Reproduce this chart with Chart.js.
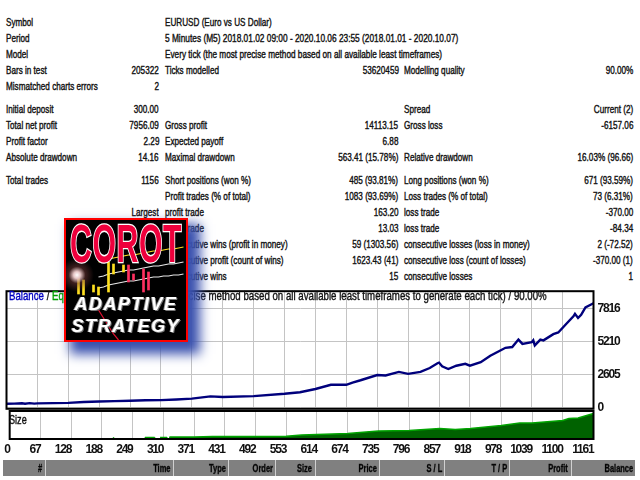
<!DOCTYPE html>
<html>
<head>
<meta charset="utf-8">
<title>Strategy Tester Report</title>
<script src="https://cdn.jsdelivr.net/npm/chart.js@4"></script>
<style>
  html, body { margin: 0; padding: 0; background: #fff; }
  #page { position: relative; width: 640px; height: 480px; overflow: hidden; font-family: 'Liberation Sans', sans-serif; color: #111; }
  canvas { position: absolute; }
  .t { position: absolute; white-space: nowrap; font-size: 11px; line-height: 12px; height: 12px; -webkit-text-stroke: 0.4px #111; transform: scaleX(.74); transform-origin: left center; }
  .r { text-align: right; transform-origin: right center; }
  #title, #sizeLabel { font-size: 13px; line-height: 14px; transform: scaleX(.7); }
  #header { position: absolute; left: 3px; top: 460px; width: 632px; height: 16px; background: #808080; }
  #header .sep { position: absolute; top: 0; width: 1px; height: 16px; background: #d0d0d0; }
  #header .t { top: 2px; font-weight: bold; color: #000; transform: scaleX(.68); }
  #logo { position: absolute; left: 64px; top: 218px; width: 120px; height: 120px; border: 2px solid #f00; background: #000; box-shadow: 9px 9px 11px 3px #3a51ae; overflow: hidden; }
  #flare { position: absolute; left: -6px; top: 38px; width: 34px; height: 34px; background: radial-gradient(circle, #fff 0, #e8c8c8 14%, rgba(120,60,60,.5) 35%, rgba(0,0,0,0) 70%); }
  #corot { position: absolute; left: -40px; top: 3px; width: 200px; text-align: center; font: bold 54px/40px 'Liberation Sans', sans-serif; color: #ee003c; -webkit-text-stroke: 2.6px #fff; paint-order: stroke fill; transform: scaleX(.56); letter-spacing: 1px; }
  .slogan { position: absolute; left: 0; width: 120px; text-align: center; font: italic bold 18px/18px 'Liberation Sans', sans-serif; color: #fff; text-shadow: 1px 1px 0 #777, -1px 0 0 #999; letter-spacing: 1.5px; }
</style>
</head>
<body>
<div id="page">
  <canvas id="balanceChart" width="640" height="140" style="left:0;top:280px"></canvas>
  <canvas id="sizeChart" width="640" height="55" style="left:0;top:405px"></canvas>
  <div id="title" class="t" style="left:9px;top:289px"><span style="color:#0000c0;-webkit-text-stroke-color:#0000c0">Balance</span> / <span style="color:#00a000;-webkit-text-stroke-color:#00a000">Equity</span> / Every tick (the most precise method based on all available least timeframes to generate each tick) / 90.00%</div>
  <div id="sizeLabel" class="t" style="left:9px;top:413px">Size</div>
  <div id="header"></div>
  <div id="logo">
    <canvas id="logoChart" width="120" height="120" style="left:0;top:0"></canvas>
    <div id="flare"></div>
    <div id="corot">COROT</div>
    <div class="slogan" style="top:74.5px">ADAPTIVE</div>
    <div class="slogan" style="top:96.5px">STRATEGY</div>
  </div>
</div>
<script>
// report rows: [text, x, y, right aligned]
const labelRows = [
  ['Symbol', 5.5, 21.7], ['Period', 5.5, 37.7], ['Model', 5.5, 53.7], ['Bars in test', 5.5, 69.7],
  ['Mismatched charts errors', 5.5, 85.7], ['Initial deposit', 5.5, 109], ['Total net profit', 5.5, 125],
  ['Profit factor', 5.5, 141], ['Absolute drawdown', 5.5, 157], ['Total trades', 5.5, 180.3]
];
const valueRows = [
  ['205322', 159, 69.7, 1], ['2', 159, 85.7, 1], ['300.00', 159, 109, 1], ['7956.09', 159, 125, 1],
  ['2.29', 159, 141, 1], ['14.16', 159, 157, 1], ['1156', 159, 180.3, 1],
  ['Largest', 159, 212, 1], ['Average', 159, 228, 1], ['Maximum', 159, 244, 1], ['Maximal', 159, 260, 1], ['Average', 159, 276, 1],
  ['EURUSD (Euro vs US Dollar)', 164.5, 21.7], ['5 Minutes (M5) 2018.01.02 09:00 - 2020.10.06 23:55 (2018.01.01 - 2020.10.07)', 164.5, 37.7],
  ['Every tick (the most precise method based on all available least timeframes)', 164.5, 53.7],
  ['Ticks modelled', 164.5, 69.7], ['Gross profit', 164.5, 125], ['Expected payoff', 164.5, 141], ['Maximal drawdown', 164.5, 157],
  ['Short positions (won %)', 164.5, 180.3], ['Profit trades (% of total)', 164.5, 196], ['profit trade', 164.5, 212], ['profit trade', 164.5, 228],
  ['consecutive wins (profit in money)', 164.5, 244], ['consecutive profit (count of wins)', 164.5, 260], ['consecutive wins', 164.5, 276],
  ['53620459', 398.5, 69.7, 1], ['14113.15', 398.5, 125, 1], ['6.88', 398.5, 141, 1], ['563.41 (15.78%)', 398.5, 157, 1],
  ['485 (93.81%)', 398.5, 180.3, 1], ['1083 (93.69%)', 398.5, 196, 1], ['163.20', 398.5, 212, 1], ['13.03', 398.5, 228, 1],
  ['59 (1303.56)', 398.5, 244, 1], ['1623.43 (41)', 398.5, 260, 1], ['15', 398.5, 276, 1],
  ['Modelling quality', 403.5, 69.7], ['Spread', 403.5, 109], ['Gross loss', 403.5, 125], ['Relative drawdown', 403.5, 157],
  ['Long positions (won %)', 403.5, 180.3], ['Loss trades (% of total)', 403.5, 196], ['loss trade', 403.5, 212], ['loss trade', 403.5, 228],
  ['consecutive losses (loss in money)', 403.5, 244], ['consecutive loss (count of losses)', 403.5, 260], ['consecutive losses', 403.5, 276],
  ['90.00%', 633, 69.7, 1], ['Current (2)', 633, 109, 1], ['-6157.06', 633, 125, 1], ['16.03% (96.66)', 633, 157, 1],
  ['671 (93.59%)', 633, 180.3, 1], ['73 (6.31%)', 633, 196, 1], ['-370.00', 633, 212, 1], ['-84.34', 633, 228, 1],
  ['2 (-72.52)', 633, 244, 1], ['-370.00 (1)', 633, 260, 1], ['1', 633, 276, 1]
];
// rows whose width in the reference is known, squeezed to fit it
const fitWidths = {
  '5 Minutes (M5) 2018.01.02 09:00 - 2020.10.06 23:55 (2018.01.01 - 2020.10.07)': 293.5,
  'Every tick (the most precise method based on all available least timeframes)': 277
};
const headerNames = ['#', 'Time', 'Type', 'Order', 'Size', 'Price', 'S / L', 'T / P', 'Profit', 'Balance'];
const headerEnds = [42, 170, 226, 273, 312, 377, 442, 507, 568, 633];
const headerSeps = [45, 173, 228, 275, 315, 379, 444, 509, 571];

// x runs in grid steps, one step per labelled tick
const tradeTicks = ['0','67','128','188','249','310','371','431','492','553','614','674','735','796','857','918','978','1039','1100','1161'];
const balanceTicks = [0, 2605, 5210, 7816];

const balanceX = [0, .25, .5, .6, .75, .9, 1, 1.5, 2, 2.5, 3, 3.5, 4, 4.5, 5, 5.5, 6, 6.6, 7, 8, 9, 9.5, 10, 10.5, 11, 11.2, 11.46, 12, 12.27, 12.7, 13, 13.4, 13.7, 13.95, 14, 14.1, 14.3, 14.56, 14.85, 15, 15.35, 15.66, 16, 16.15, 16.37, 16.57, 16.7, 17, 17.05, 17.1, 17.28, 17.38, 17.7, 17.86, 18.1, 18.35, 18.4, 18.5, 18.6, 18.74, 19];
const balanceY = [300, 310, 340, 300, 350, 310, 330, 350, 370, 440, 480, 510, 540, 580, 590, 640, 705, 880, 830, 905, 1090, 1210, 1470, 1800, 1800, 1980, 2160, 2570, 2540, 2820, 2670, 2820, 3130, 3510, 3560, 3260, 3050, 3310, 3460, 3310, 3590, 4100, 4540, 4730, 4790, 5380, 5040, 5170, 5320, 4920, 5380, 5320, 5810, 5940, 6570, 7220, 7420, 7090, 7340, 7930, 8256];

const sizeX = [0, 3.35, 3.38, 3.42, 4.4, 4.42, 4.7, 4.72, 4.9, 4.92, 5.1, 5.12, 5.2, 5.22, 6, 6.6, 7, 8, 9, 9.5, 10, 11, 12, 13, 14, 14.5, 15, 16, 16.6, 17, 18, 18.2, 18.5, 19];
const sizeY = [0, 0, .1, 0, 0, .15, .15, 0, 0, .15, .15, 0, 0, .2, .2, .25, .25, .25, .28, .4, .45, .55, .8, .85, 1.05, .95, 1.05, 1.35, 1.6, 1.6, 1.85, 2.05, 2.1, 2.55];

// candles and channel lines of the small picture in the badge
const logoBars = ['a','b','c','d','e','f','g','h','i','j','k','l','m','n','o','p','q','r','s','t','u','v','w','x'];
const logoLow =  [null, null, 46, 45, null, 48, 45, null, 48, 66, null, 68, 58, 60, null, 48, 50, null, null, null, null, null, null, null];
const logoHigh = [null, null, 63, 60, null, 55, 53, null, 78, 76, null, 75, 75, 66, null, 71, 68, null, null, null, null, null, null, null];
const logoCandleColor = ['#ffe020','#ffe020','#ffe020','#ffe020','#ffe020','#ffe020','#ffe020','#ffe020','#ffe020','#ffe020','#ffe020','#ffe020','#ff3060','#ff3060','#ff3060','#ff3060','#ff3060','#ff3060','#ff3060','#ff3060','#ff3060','#ff3060','#ff3060','#ff3060'];
const logoChannelA = [null, null, null, null, null, null, 63, 64, 66, 67, 68, 69, 70, 70, 71, 72, 73, 74, 74, 75, 76, 76, 77, 78];
const logoChannelB = [null, null, null, null, null, null, 52, 53, 55, 56, 57, 58, 59, 59, 60, 61, 62, 63, 63, 64, 64, 65, 65, 66];
const logoUpper = [null, null, null, null, null, null, 78, 79, 81, 82, 83, 84, 85, 85, 86, 87, 88, 89, 89, 90, 91, 91, 92, 93];
const logoDrop = [null, null, null, null, null, null, 30, 22, 14, 6, 0, null, null, null, null, null, null, null, null, null, null, null, null, null];

const page = document.getElementById('page');
labelRows.concat(valueRows).forEach(([text, x, y, right]) => {
  const el = document.createElement('div');
  el.className = 't' + (right ? ' r' : '');
  el.textContent = text;
  el.style.top = (y - 6) + 'px';
  if (right) el.style.right = (640 - x) + 'px'; else el.style.left = x + 'px';
  page.insertBefore(el, page.firstChild);
  if (fitWidths[text]) el.style.transform = 'scaleX(' + fitWidths[text] / el.offsetWidth + ')';
});
const titleEl = document.getElementById('title');
titleEl.style.transform = 'scaleX(' + 538 / titleEl.offsetWidth + ')';

const header = document.getElementById('header');
headerSeps.forEach(x => {
  const s = document.createElement('div');
  s.className = 'sep';
  s.style.left = (x - 3) + 'px';
  header.appendChild(s);
});
headerNames.forEach((name, i) => {
  const el = document.createElement('div');
  el.className = 't r';
  el.textContent = name;
  el.style.right = (635 - headerEnds[i]) + 'px';
  header.appendChild(el);
});

const points = (xs, ys) => xs.map((x, i) => ({ x, y: ys[i] }));
const stepTicks = scale => { scale.ticks = tradeTicks.map((_, i) => ({ value: i })); };
const GRID = { color: '#c4c4c4', lineWidth: 1, borderDash: [2, 2], borderDashOffset: 0 };
const TICK_FONT = { family: "'Liberation Sans', sans-serif", size: 12, weight: 'bold' };

const framePlugin = {
  id: 'frame',
  beforeDraw(chart) { chart.ctx.letterSpacing = '-1.2px'; },
  afterDraw(chart) {
    const { ctx, chartArea: a } = chart;
    ctx.save();
    ctx.strokeStyle = '#000';
    ctx.lineWidth = 2;
    ctx.strokeRect(a.left, a.top, a.right - a.left, a.bottom - a.top);
    ctx.restore();
  }
};

new Chart(document.getElementById('balanceChart'), {
  type: 'line',
  data: { datasets: [{ data: points(balanceX, balanceY), borderColor: '#00007c', borderWidth: 2.4, pointRadius: 0, tension: 0 }] },
  options: {
    responsive: false, animation: false, devicePixelRatio: 1,
    layout: { autoPadding: false, padding: { left: 6.5, top: 7, right: 0, bottom: 10.5 } },
    plugins: { legend: { display: false }, tooltip: { enabled: false } },
    scales: {
      x: {
        type: 'linear', min: 0, max: 19, afterBuildTicks: stepTicks,
        ticks: { display: false }, grid: { ...GRID, drawTicks: false }, border: { display: false }
      },
      y: {
        position: 'right', min: -100, max: 9211,
        afterBuildTicks: s => { s.ticks = balanceTicks.map(value => ({ value })); },
        afterFit: s => { s.width = 46.5; },
        ticks: { color: '#111', font: TICK_FONT, padding: 4, callback: v => String(v) },
        grid: { ...GRID, drawTicks: false }, border: { display: false }
      }
    }
  },
  plugins: [framePlugin]
});

new Chart(document.getElementById('sizeChart'), {
  type: 'line',
  data: { datasets: [{ data: points(sizeX, sizeY), borderColor: '#00a400', backgroundColor: '#006200', borderWidth: 1.6, fill: 'origin', pointRadius: 0, tension: 0 }] },
  options: {
    responsive: false, animation: false, devicePixelRatio: 1,
    layout: { autoPadding: false, padding: { left: 6.5, top: 6, right: 46.5, bottom: 0 } },
    plugins: { legend: { display: false }, tooltip: { enabled: false } },
    scales: {
      x: {
        type: 'linear', min: 0, max: 19, afterBuildTicks: stepTicks,
        afterFit: s => { s.height = 21; },
        ticks: { color: '#111', font: TICK_FONT, align: 'end', autoSkip: false, maxRotation: 0, padding: 3, callback: (v, i) => tradeTicks[i] },
        grid: { ...GRID, drawTicks: false }, border: { display: false }
      },
      y: { display: false, min: 0, max: 2.8 }
    }
  },
  plugins: [framePlugin]
});

new Chart(document.getElementById('logoChart'), {
  data: {
    labels: logoBars,
    datasets: [
      { type: 'bar', data: logoLow.map((low, i) => low === null ? null : [low, logoHigh[i]]), backgroundColor: logoCandleColor, barThickness: 2 },
      { type: 'line', data: logoChannelA, borderColor: '#e8e8e8', borderWidth: 1.2, pointRadius: 0, spanGaps: true },
      { type: 'line', data: logoChannelB, borderColor: '#e8e8e8', borderWidth: 1.2, pointRadius: 0, spanGaps: true },
      { type: 'line', data: logoUpper, borderColor: '#ffe020', borderWidth: 1.2, pointRadius: 0, spanGaps: true },
      { type: 'line', data: logoDrop, borderColor: '#e01030', borderWidth: 1.2, pointRadius: 0 }
    ]
  },
  options: {
    responsive: false, animation: false, devicePixelRatio: 1,
    layout: { autoPadding: false, padding: 0 },
    plugins: { legend: { display: false }, tooltip: { enabled: false } },
    scales: {
      x: { display: false },
      y: { display: false, min: 0, max: 120 }
    }
  }
});
</script>
</body>
</html>
